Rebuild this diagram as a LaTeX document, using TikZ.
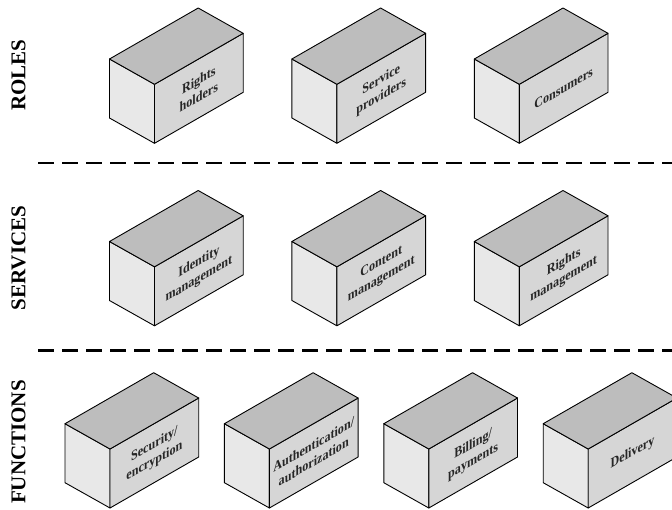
\documentclass[tikz,border=0pt]{standalone}
\usepackage{fontspec}
\setmainfont{Liberation Serif}
\definecolor{topc}{gray}{0.74}
\definecolor{rightc}{gray}{0.84}
\definecolor{leftc}{gray}{0.91}
\tikzset{
  edge/.style={draw=black, line width=0.9pt, line join=round},
  facetext/.style={align=center, inner sep=0pt, text=black!85,
    font=\bfseries\fontsize{14}{17}\selectfont,
    cm={0.866,0.5,0,1,(0,0)}, transform shape},
  rowlabel/.style={rotate=90, inner sep=0pt, font=\bfseries\fontsize{21}{21}\selectfont},
  sepline/.style={line width=2.5pt, dash pattern=on 16pt off 8pt}
}
\newcommand\drawcube[4]{%
  \filldraw[edge, fill=leftc] (#1,#2) -- ++(-45,-25.3) -- ++(0,59) -- ++(45,25.3) -- cycle;
  \filldraw[edge, fill=rightc] (#1,#2) -- ++(88.7,-51) -- ++(0,59) -- ++(-88.7,51) -- cycle;
  \filldraw[edge, fill=topc] (#1,#2) -- ++(-45,-25.3) -- ++(88.7,-51) -- ++(45,25.3) -- cycle;
  \node[facetext] (#3) at (#1+44.35,#2+4) {#4};
}
\begin{document}
\begin{tikzpicture}[x=1pt,y=-1pt]
\useasboundingbox (0,0) rectangle (672,509);
\clip (0,0) rectangle (672,509);
% row labels
\node[rowlabel] (roles) at (18.5,75) {ROLES};
\node[rowlabel] (services) at (18.5,258) {SERVICES};
\node[rowlabel] (functions) at (18.5,442) {FUNCTIONS};
% separators
\coordinate (s1a) at (38,163);
\coordinate (s1b) at (672,163);
\coordinate (s2a) at (38,350.7);
\coordinate (s2b) at (672,350.7);
\draw[sepline] (s1a) -- (s1b);
\draw[sepline] (s2a) -- (s2b);
% roles
\drawcube{154.5}{84.3}{rh}{Rights\\holders}
\drawcube{336.9}{84.3}{sp}{Service\\providers}
\drawcube{519.3}{84.3}{co}{Consumers}
% services
\drawcube{154.5}{266.8}{im}{Identity\\management}
\drawcube{336.9}{266.8}{cm}{Content\\management}
\drawcube{519.3}{266.8}{rm}{Rights\\management}
% functions
\drawcube{110}{449}{se}{Security/\\encryption}
\drawcube{269.4}{449}{au}{Authentication/\\authorization}
\drawcube{428.8}{449}{bi}{Billing/\\payments}
\drawcube{588.2}{449}{de}{Delivery}
\end{tikzpicture}
\end{document}
